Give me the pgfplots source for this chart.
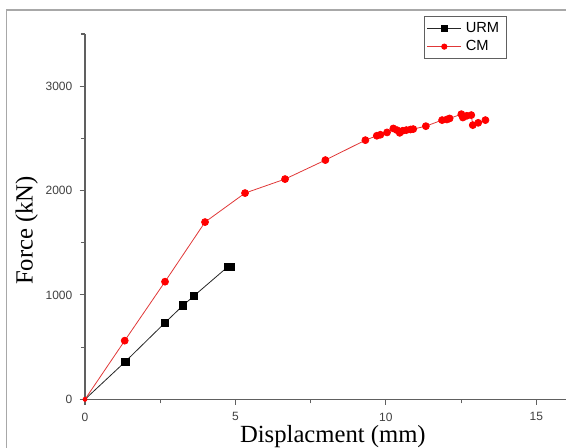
\documentclass[border=0pt]{standalone}
\usepackage{pgfplots}
\pgfplotsset{compat=1.18}
\usepackage{fontspec}
\setmainfont{Liberation Sans}
\newfontfamily\seriffont{Liberation Serif}
\definecolor{axgray}{HTML}{606060}
\definecolor{txtgray}{HTML}{404040}
\definecolor{framegray}{HTML}{A8A8A8}
\definecolor{cmred}{HTML}{FF0000}
\definecolor{cmline}{HTML}{E03838}
\begin{document}
\begin{tikzpicture}
\useasboundingbox (-63.75pt,-36.5pt) rectangle (360.75pt,299.5pt);
\clip (-63.75pt,-36.5pt) rectangle (360.75pt,299.5pt);
\draw[framegray, line width=1pt] (-59.1pt,-80pt) rectangle (420pt,292pt);
\begin{axis}[
  at={(0,0)}, anchor=south west,
  scale only axis,
  width=361pt, height=274pt,
  xmin=0, xmax=16, ymin=0, ymax=3500,
  axis x line=bottom, axis y line=left,
  axis line style={-, axgray, line width=0.9pt},
  xtick={0,5,10,15}, ytick={0,1000,2000,3000},
  minor xtick={2.5,7.5,12.5}, minor ytick={500,1500,2500,3500},
  tick align=outside,
  major tick length=4pt, minor tick length=3pt,
  tick style={axgray, line width=0.8pt},
  ticklabel style={font=\fontsize{9}{10}\selectfont, text=txtgray},
  xticklabel style={yshift=-2.5pt},
  yticklabel style={xshift=-2pt, /pgf/number format/1000 sep={}},
  /pgf/number format/assume math mode=true,
  scaled y ticks=false,
  xlabel={\seriffont Displacment (mm)},
  ylabel={\seriffont Force (kN)},
  label style={font=\fontsize{18.5}{20}\selectfont},
  xlabel style={at={(axis description cs:0.515,0)}, anchor=base, yshift=-32.5pt},
  ylabel style={at={(axis description cs:-0.121,0.462)}, anchor=center},
  legend style={at={(axis description cs:0.875,1.049)}, anchor=north east,
    draw=axgray, line width=0.5pt, font=\fontsize{11}{12}\selectfont,
    inner xsep=2pt, inner ysep=2.5pt, row sep=0.5pt,
    nodes={inner xsep=3pt}},
  legend cell align=left,
  legend image code/.code={\draw[mark repeat=2,mark phase=2,#1] plot coordinates {(0cm,0cm) (0.45cm,0cm) (0.9cm,0cm)};},
]
\addplot[forget plot, color=black!85, line width=0.6pt, mark=square*, mark size=2.7pt,
  mark indices={2,...,7},
  mark options={fill=black, draw=black}] coordinates {
(0,0) (1.34,361) (2.66,734) (3.26,900) (3.63,993) (4.74,1268) (4.84,1270)
};
\addplot[forget plot, color=cmline, line width=0.6pt, mark=*, mark size=2.6pt,
  mark indices={2,...,29},
  mark options={fill=cmred, draw=cmred}] coordinates {
(0,0) (1.32,562) (2.66,1127) (3.99,1698) (5.32,1976) (6.65,2110) (7.99,2292)
(9.32,2483) (9.70,2525) (9.82,2535) (10.04,2557) (10.25,2595) (10.37,2579)
(10.46,2553) (10.56,2573) (10.68,2579) (10.82,2585) (10.91,2589) (11.33,2617)
(11.87,2675) (12.03,2681) (12.12,2691) (12.51,2732) (12.56,2700) (12.69,2716)
(12.84,2723) (12.89,2627) (13.07,2649) (13.31,2675)
};
\addplot[forget plot, only marks, mark=*, mark size=1.6pt, cmred] coordinates {(0,0)};
\addlegendimage{color=black!85, line width=0.6pt, mark=square*, mark size=2pt, mark options={fill=black, draw=black}}
\addlegendentry{URM}
\addlegendimage{color=cmline, line width=0.6pt, mark=*, mark size=2pt, mark options={fill=cmred, draw=cmred}}
\addlegendentry{CM}
\end{axis}
\end{tikzpicture}
\end{document}
